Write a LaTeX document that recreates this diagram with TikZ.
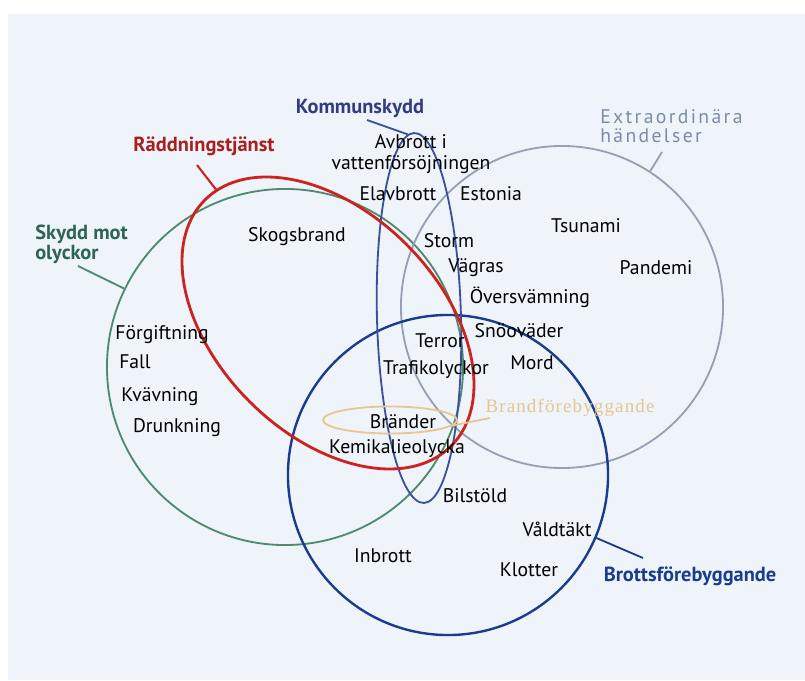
\documentclass[tikz,border=0pt]{standalone}
\usepackage{fontspec}
\setmainfont{PT Sans}
\newfontfamily\brandfont[LetterSpace=6]{Liberation Serif}
\newfontfamily\extrafont[LetterSpace=12]{PT Sans}
\usetikzlibrary{shapes.geometric}
\definecolor{bgblue}{RGB}{238,244,250}
\definecolor{skyddgreen}{RGB}{78,138,110}
\definecolor{skyddtext}{RGB}{45,100,85}
\definecolor{raddred}{RGB}{205,35,30}
\definecolor{raddtext}{RGB}{170,30,30}
\definecolor{kommblue}{RGB}{60,80,155}
\definecolor{kommtext}{RGB}{50,60,130}
\definecolor{extragrey}{RGB}{150,160,178}
\definecolor{extratext}{RGB}{125,140,165}
\definecolor{brottblue}{RGB}{25,60,140}
\definecolor{brandorange}{RGB}{232,198,145}

\begin{document}
\begin{tikzpicture}[x=0.025cm, y=0.025cm,
    area/.style ={ellipse, draw, inner sep=0pt, line width=1.3pt},
    item/.style ={font=\fontsize{14}{14.5}\selectfont, inner sep=0pt, align=center},
    tag/.style ={font=\fontsize{14.5}{14}\selectfont\bfseries, inner sep=0pt, align=left}]
   \useasboundingbox (0,0) rectangle (805,680);
   \fill[bgblue] (8,0) rectangle (805,666);
   \node[area, draw=skyddgreen, minimum size=8.9cm] (skydd) at (285,313) {};
   \node[area, draw=extragrey, minimum size=8.05cm] (extra) at (562,373) {};
   \node[area, draw=brottblue, line width=1.7pt, minimum size=8cm] (brott) at (448,205) {};
   \node[area, draw=kommblue, minimum width=2.1cm, minimum height=9.25cm, rotate=1.5] (komm) at (419,362) {};
   \node[area, draw=raddred, line width=2pt, minimum width=8.7cm, minimum height=5.55cm, rotate=-45] (radd) at (328,357) {};
   \node[area, draw=brandorange, minimum width=3.35cm, minimum height=0.675cm] (brand) at (390,260) {};
   \node[tag, text=kommtext] (kommlabel) at (360,572) {Kommunskydd};
   \node[tag, text=raddtext] (raddlabel) at (204,534) {Räddningstjänst};
   \node[tag, text=skyddtext, anchor=west] (skyddlabel) at (35,436) {Skydd mot\\olyckor};
   \node[tag, text=extratext, font=\fontsize{14}{14}\selectfont\extrafont, anchor=west] (extralabel) at (600,554) {Extraordinära\\händelser};
   \node[tag, text=brottblue] (brottlabel) at (690,104) {Brottsförebyggande};
   \node[tag, text=brandorange, font=\fontsize{13.5}{10}\selectfont\brandfont] (brandlabel) at (570,272) {Brandförebyggande};
   \coordinate (kommtip) at (367,560);
   \coordinate (raddtip) at (197,515);
   \coordinate (skyddtip) at (78,414);
   \coordinate (extratip) at (662,528);
   \coordinate (brotttip) at (643,122);
   \coordinate (brandtip) at (490,262);
   \draw[kommblue, line width=1.3pt] (kommtip) -- (komm.92);
   \draw[raddred, line width=1.5pt] (raddtip) -- (radd.175);
   \draw[skyddgreen, line width=1.3pt] (skyddtip) -- (skydd.154);
   \draw[extragrey, line width=1.3pt] (extratip) -- (extra.57);
   \draw[brottblue, line width=1.3pt] (brotttip) -- (brott.-23);
   \draw[brandorange, line width=1.3pt] (brandtip) -- (brand.-5);
   \node[item] (avbrott) at (411,526) {Avbrott i\\vattenförsöjningen};
   \node[item] (elavbrott) at (398,486) {Elavbrott};
   \node[item] (estonia) at (491,486) {Estonia};
   \node[item] (skogsbrand) at (297,443) {Skogsbrand};
   \node[item] (storm) at (449,439) {Storm};
   \node[item] (tsunami) at (586,454) {Tsunami};
   \node[item] (vagras) at (476,412) {Vägras};
   \node[item] (pandemi) at (656,412) {Pandemi};
   \node[item] (oversvamning) at (530,383) {Översvämning};
   \node[item] (snovader) at (519,349) {Snöoväder};
   \node[item] (terror) at (440,339) {Terror};
   \node[item] (mord) at (532,317) {Mord};
   \node[item] (trafik) at (436,310) {Trafikolyckor};
   \node[item] (forgiftning) at (162,345) {Förgiftning};
   \node[item] (fall) at (135,318) {Fall};
   \node[item] (kvavning) at (160,283) {Kvävning};
   \node[item] (drunkning) at (177,252) {Drunkning};
   \node[item] (brander) at (403,258) {Bränder};
   \node[item] (kemikalie) at (397,231) {Kemikalieolycka};
   \node[item] (bilstold) at (475,184) {Bilstöld};
   \node[item] (valdtakt) at (557,151) {Våldtäkt};
   \node[item] (inbrott) at (383,124) {Inbrott};
   \node[item] (klotter) at (529,110) {Klotter};
 \end{tikzpicture}
\end{document}
